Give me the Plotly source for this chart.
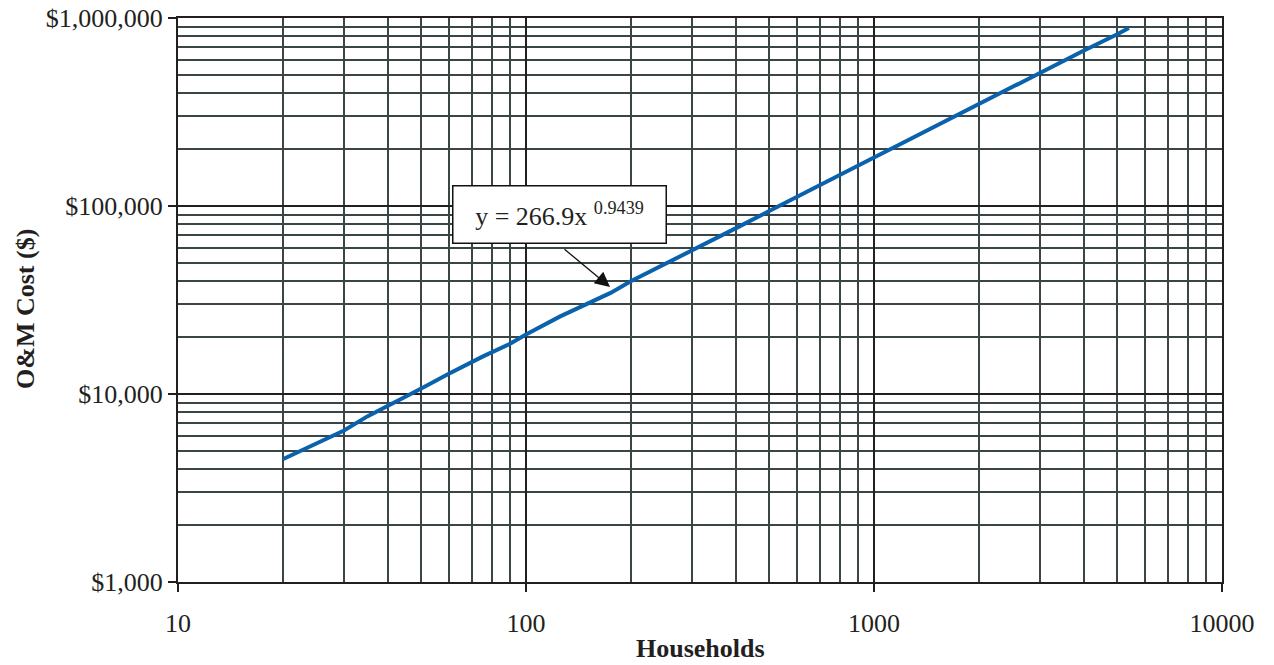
import plotly.graph_objects as go

households = [20, 25, 30, 35, 40, 50, 60, 75, 90, 100, 125, 150, 175, 200, 250, 300,
              350, 400, 500, 600, 700, 800, 1000, 1200, 1500, 2000, 2500, 3000, 4000, 5000, 5400]
cost = [4500, 5500, 6400, 7600, 8600, 10700, 12800, 15800, 18500, 20700, 25800, 30000,
        34500, 39800, 48800, 58000, 67000, 76000, 94000, 112000, 130000, 147000, 181000,
        215000, 266000, 350000, 430000, 510000, 670000, 820000, 885000]

x_major = [10, 100, 1000, 10000]
x_major_text = ["10", "100", "1000", "10000"]
y_major = [1000, 10000, 100000, 1000000]
y_major_text = ["$1,000", "$10,000", "$100,000", "$1,000,000"]
x_minor = [m * d for d in (10, 100, 1000) for m in range(2, 10)]
y_minor = [m * d for d in (1000, 10000, 100000) for m in range(2, 10)]

equation = "y = 266.9x <sup>0.9439</sup>"
x_title = "<b>Households</b>"
y_title = "<b>O&M Cost ($)</b>"

FONT = "Liberation Serif, Times New Roman, serif"
MAJOR = "#231f20"
MINOR = "#3a4545"
TXT = "#231f20"

# the page body adds an 8px offset; size the figure so the plot lands where the reference has it
OFF = 8
W, H = 1274 - OFF, 665 - OFF
L, R, T, B = 178 - OFF, 1222 - OFF, 18 - OFF, 582 - OFF

fig = go.Figure()
fig.add_trace(go.Scatter(x=households, y=cost, mode="lines",
                         line=dict(color="#0a62ad", width=4), showlegend=False))

fig.update_xaxes(type="log", range=[1, 4], tickvals=x_major, ticktext=x_major_text,
                 ticks="outside", ticklen=8, tickwidth=2, tickcolor=MAJOR,
                 ticklabelstandoff=9, automargin=False, ticklabeloverflow="allow",
                 showgrid=True, gridcolor=MAJOR, gridwidth=2,
                 minor=dict(tickvals=x_minor, showgrid=True, gridcolor=MINOR, gridwidth=2, ticks=""),
                 showline=True, linecolor=MAJOR, linewidth=2, mirror=True,
                 tickfont=dict(family=FONT, size=26, color=TXT),
                 zeroline=False)
fig.update_yaxes(type="log", range=[3, 6], tickvals=y_major, ticktext=y_major_text,
                 ticks="outside", ticklen=8, tickwidth=2, tickcolor=MAJOR,
                 automargin=False, ticklabeloverflow="allow",
                 showgrid=True, gridcolor=MAJOR, gridwidth=2,
                 minor=dict(tickvals=y_minor, showgrid=True, gridcolor=MINOR, gridwidth=2, ticks=""),
                 showline=True, linecolor=MAJOR, linewidth=2, mirror=True,
                 tickfont=dict(family=FONT, size=26, color=TXT),
                 zeroline=False)

pw, ph = R - L, B - T
# axis titles (page pixel positions converted to paper fractions)
fig.add_annotation(x=0.5, y=(B - (648 - OFF)) / ph, xref="paper", yref="paper", text=x_title,
                   showarrow=False, xanchor="center", yanchor="middle",
                   font=dict(family=FONT, size=26, color=TXT))
fig.add_annotation(x=((25 - OFF) - L) / pw, y=(B - (309 - OFF)) / ph, xref="paper", yref="paper",
                   text=y_title, showarrow=False, textangle=-90, xanchor="center", yanchor="middle",
                   font=dict(family=FONT, size=26, color=TXT))

# equation box
fig.add_annotation(x=2.0963, y=4.9548, xref="x", yref="y", text=equation, showarrow=False,
                   font=dict(family=FONT, size=26, color=TXT),
                   bgcolor="white", bordercolor="#111", borderwidth=1.5, borderpad=0,
                   width=212, height=56, align="center", xanchor="center", yanchor="middle")
# arrow
fig.add_annotation(x=2.2414, y=4.5691, xref="x", yref="y",
                   ax=2.1063, ay=4.7766, axref="x", ayref="y", text="",
                   showarrow=True, arrowhead=2, arrowsize=2.3, arrowwidth=1.3, arrowcolor="#111")

fig.update_layout(width=W, height=H, margin=dict(l=L, r=W - R, t=T, b=H - B),
                  plot_bgcolor="white", paper_bgcolor="white",
                  font=dict(family=FONT))

fig.write_html("out.html")
